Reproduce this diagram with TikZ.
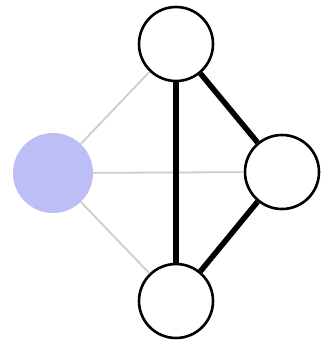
\documentclass[tikz,border=0pt]{standalone}
\definecolor{lav}{RGB}{190,190,246}
\definecolor{lightedge}{RGB}{205,205,205}
\begin{document}
\begin{tikzpicture}[x=1pt,y=-1pt,
  vtx/.style={circle,draw=black,line width=2.6pt,fill=white,inner sep=0pt,minimum size=74pt},
  src/.style={circle,fill=lav,inner sep=0pt,minimum size=80pt},
  thin/.style={draw=lightedge,line width=1.8pt},
  thick/.style={draw=black,line width=5.5pt}]
\useasboundingbox (0,0) rectangle (324,343);
\node[vtx] (t) at (176,44) {};
\node[vtx] (r) at (282,172) {};
\node[vtx] (b) at (176,301) {};
\node[src] (l) at (53,173) {};
\draw[thin] (l) -- (t);
\draw[thin] (l) -- (r);
\draw[thin] (l) -- (b);
\draw[thick] (t) -- (b);
\draw[thick] (t) -- (r);
\draw[thick] (r) -- (b);
\end{tikzpicture}
\end{document}
